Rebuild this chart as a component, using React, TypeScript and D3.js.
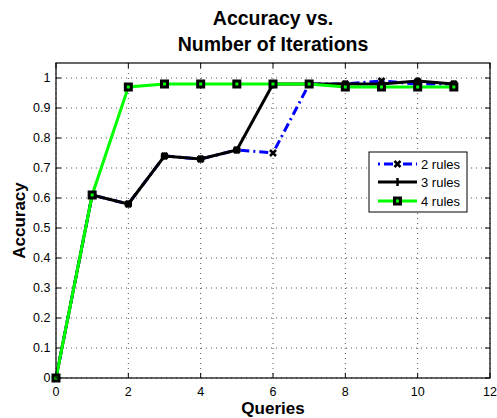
import React, { useEffect, useRef } from 'react';
import * as d3 from 'd3';

// queries on the x axis
const queries = [0, 1, 2, 3, 4, 5, 6, 7, 8, 9, 10, 11];
// accuracy for each rule count
const rules2 = [0, 0.61, 0.58, 0.74, 0.73, 0.76, 0.75, 0.98, 0.98, 0.99, 0.98, 0.98];
const rules3 = [0, 0.61, 0.58, 0.74, 0.73, 0.76, 0.98, 0.98, 0.98, 0.98, 0.99, 0.98];
const rules4 = [0, 0.61, 0.97, 0.98, 0.98, 0.98, 0.98, 0.98, 0.97, 0.97, 0.97, 0.97];
const seriesNames = ['2 rules', '3 rules', '4 rules'];
const xTicks = [0, 2, 4, 6, 8, 10, 12];
const yTicks = [0, 0.1, 0.2, 0.3, 0.4, 0.5, 0.6, 0.7, 0.8, 0.9, 1];

export default function App() {
	const ref = useRef<SVGSVGElement>(null);

	useEffect(() => {
		const svg = d3.select(ref.current);
		svg.selectAll('*').remove();

		const margin = { top: 63, right: 7, bottom: 40, left: 56 };
		const width = 497, height = 418;
		const w = width - margin.left - margin.right;
		const h = height - margin.top - margin.bottom;
		const font = 'Liberation Sans, Arial, sans-serif';

		const x = d3.scaleLinear().domain([0, 12]).range([0, w]);
		const y = d3.scaleLinear().domain([0, 1.05]).range([h, 0]);

		const g = svg.append('g').attr('transform', `translate(${margin.left},${margin.top})`);

		// dotted grid
		g.selectAll('.gx').data(xTicks).enter().append('line')
			.attr('x1', d => x(d)).attr('x2', d => x(d))
			.attr('y1', 0).attr('y2', h)
			.attr('stroke', '#555').attr('stroke-width', 1).attr('stroke-dasharray', '1,4');
		g.selectAll('.gy').data(yTicks).enter().append('line')
			.attr('y1', d => y(d)).attr('y2', d => y(d))
			.attr('x1', 0).attr('x2', w)
			.attr('stroke', '#555').attr('stroke-width', 1).attr('stroke-dasharray', '1,4');

		// inner ticks on all four sides
		const tl = 5;
		xTicks.forEach(t => {
			g.append('line').attr('x1', x(t)).attr('x2', x(t)).attr('y1', h).attr('y2', h - tl).attr('stroke', '#000');
			g.append('line').attr('x1', x(t)).attr('x2', x(t)).attr('y1', 0).attr('y2', tl).attr('stroke', '#000');
		});
		yTicks.forEach(t => {
			g.append('line').attr('x1', 0).attr('x2', tl).attr('y1', y(t)).attr('y2', y(t)).attr('stroke', '#000');
			g.append('line').attr('x1', w).attr('x2', w - tl).attr('y1', y(t)).attr('y2', y(t)).attr('stroke', '#000');
		});

		// tick labels
		g.selectAll('.xl').data(xTicks).enter().append('text')
			.attr('x', d => x(d)).attr('y', h + 18)
			.attr('text-anchor', 'middle').attr('font-family', font).attr('font-size', 12.5)
			.text(d => d);
		g.selectAll('.yl').data(yTicks).enter().append('text')
			.attr('x', -5.5).attr('y', d => y(d)).attr('dy', '0.35em')
			.attr('text-anchor', 'end').attr('font-family', font).attr('font-size', 12.5)
			.text(d => d);

		const line = d3.line<number>().x((d, i) => x(queries[i])).y(d => y(d));

		// 2 rules - blue dash-dot with x markers
		g.append('path').datum(rules2).attr('d', line)
			.attr('fill', 'none').attr('stroke', '#0000ff').attr('stroke-width', 3)
			.attr('stroke-dasharray', '9,4,2,4');
		rules2.forEach((d, i) => {
			const cx = x(queries[i]), cy = y(d);
			g.append('path').attr('d', `M${cx - 3},${cy - 3}L${cx + 3},${cy + 3}M${cx - 3},${cy + 3}L${cx + 3},${cy - 3}`)
				.attr('stroke', '#000').attr('stroke-width', 2.5);
		});

		// 3 rules - black with + markers
		g.append('path').datum(rules3).attr('d', line)
			.attr('fill', 'none').attr('stroke', '#000').attr('stroke-width', 3);
		rules3.forEach((d, i) => {
			g.append('circle').attr('cx', x(queries[i])).attr('cy', y(d)).attr('r', 3.8).attr('fill', '#000');
		});

		// 4 rules - green with squares
		g.append('path').datum(rules4).attr('d', line)
			.attr('fill', 'none').attr('stroke', '#00ff00').attr('stroke-width', 3);
		rules4.forEach((d, i) => {
			const cx = x(queries[i]), cy = y(d);
			g.append('rect').attr('x', cx - 3).attr('y', cy - 3).attr('width', 6).attr('height', 6)
				.attr('fill', '#00ff00').attr('stroke', '#000').attr('stroke-width', 3);
		});

		// box
		g.append('rect').attr('x', 0).attr('y', 0).attr('width', w).attr('height', h)
			.attr('fill', 'none').attr('stroke', '#000').attr('stroke-width', 1.2);

		// legend
		const lg = svg.append('g').attr('transform', 'translate(369,152)');
		lg.append('rect').attr('width', 98).attr('height', 60).attr('fill', '#fff').attr('stroke', '#000');
		const rows = [12, 30, 49];
		rows.forEach((ry, i) => {
			const l = lg.append('line').attr('x1', 9).attr('x2', 48).attr('y1', ry).attr('y2', ry).attr('stroke-width', 3);
			const mx = 28.5;
			if (i === 0) {
				l.attr('stroke', '#0000ff').attr('stroke-dasharray', '2,4,9,4');
				lg.append('path').attr('d', `M${mx - 3},${ry - 3}L${mx + 3},${ry + 3}M${mx - 3},${ry + 3}L${mx + 3},${ry - 3}`)
					.attr('stroke', '#000').attr('stroke-width', 2.5);
			} else if (i === 1) {
				l.attr('stroke', '#000');
				lg.append('line').attr('x1', mx).attr('x2', mx).attr('y1', ry - 4).attr('y2', ry + 4)
					.attr('stroke', '#000').attr('stroke-width', 2.5);
			} else {
				l.attr('stroke', '#00ff00');
				lg.append('rect').attr('x', mx - 3).attr('y', ry - 3).attr('width', 6).attr('height', 6)
					.attr('fill', '#00ff00').attr('stroke', '#000').attr('stroke-width', 3);
			}
			lg.append('text').attr('x', 52).attr('y', ry).attr('dy', '0.35em')
				.attr('font-family', font).attr('font-size', 13).text(seriesNames[i]);
		});

		// title and axis labels
		svg.append('text').attr('x', margin.left + w / 2).attr('y', 25)
			.attr('text-anchor', 'middle').attr('font-family', font).attr('font-size', 19.5).attr('font-weight', 'bold')
			.text('Accuracy vs.');
		svg.append('text').attr('x', margin.left + w / 2).attr('y', 51)
			.attr('text-anchor', 'middle').attr('font-family', font).attr('font-size', 19.5).attr('font-weight', 'bold')
			.text('Number of Iterations');
		svg.append('text').attr('x', margin.left + w / 2).attr('y', 414)
			.attr('text-anchor', 'middle').attr('font-family', font).attr('font-size', 17).attr('font-weight', 'bold')
			.text('Queries');
		svg.append('text').attr('transform', `translate(25,${margin.top + h / 2}) rotate(-90)`)
			.attr('text-anchor', 'middle').attr('font-family', font).attr('font-size', 17).attr('font-weight', 'bold')
			.text('Accuracy');
	}, []);

	return (
		<svg ref={ref} width={497} height={418} style={{ position: 'absolute', left: 0, top: 0, background: '#fff' }} />
	);
}
